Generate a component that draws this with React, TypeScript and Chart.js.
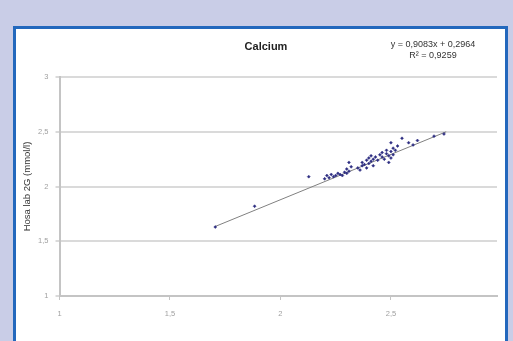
import React, { useEffect, useRef } from "react";
import { Chart, registerables } from "chart.js";

Chart.register(...registerables);

const chartTitle = "Calcium";
const equationLines = ["y = 0,9083x + 0,2964", "R² = 0,9259"];
const yAxisTitle = "Hosa lab 2G (mmol/l)";

const xTicks = [1, 1.5, 2, 2.5];
const yTicks = [1, 1.5, 2, 2.5, 3];

const xValues = [
  1.705, 1.883, 2.128,
  2.2, 2.21, 2.22, 2.23, 2.24, 2.25, 2.26, 2.27, 2.28, 2.29, 2.3, 2.31, 2.32, 2.31, 2.3,
  2.35, 2.36, 2.37, 2.37, 2.38, 2.39, 2.39, 2.4, 2.4, 2.41, 2.41, 2.42, 2.42,
  2.43, 2.44, 2.45, 2.46, 2.46, 2.47, 2.48, 2.48, 2.49, 2.49, 2.5, 2.5, 2.51, 2.51, 2.52,
  2.5, 2.53, 2.55, 2.58, 2.6, 2.62, 2.695, 2.74,
];
const yValues = [
  1.63, 1.82, 2.09,
  2.07, 2.1, 2.08, 2.11, 2.09, 2.1, 2.12, 2.11, 2.1, 2.13, 2.12, 2.14, 2.18, 2.22, 2.16,
  2.17, 2.15, 2.19, 2.22, 2.2, 2.24, 2.17, 2.26, 2.21, 2.23, 2.28, 2.25, 2.19,
  2.27, 2.24, 2.29, 2.27, 2.31, 2.25, 2.3, 2.33, 2.28, 2.22, 2.32, 2.26, 2.35, 2.29, 2.33,
  2.4, 2.37, 2.44, 2.4, 2.38, 2.42, 2.46, 2.48,
];

const trendX = [1.705, 2.75];
const trendY = [1.635, 2.5];

const FONT = "'Liberation Sans', Arial, sans-serif";

const textPlugin = {
  id: "textPlugin",
  afterDraw(chart: any) {
    const ctx = chart.ctx;
    ctx.save();
    ctx.textAlign = "center";
    ctx.textBaseline = "middle";
    ctx.fillStyle = "#222";
    ctx.font = `bold 11px ${FONT}`;
    ctx.fillText(chartTitle, 250, 18);
    ctx.font = `9px ${FONT}`;
    ctx.fillStyle = "#333";
    equationLines.forEach((t, i) => ctx.fillText(t, 417, 16 + i * 11));
    ctx.restore();
  },
};

export default function App() {
  const ref = useRef<HTMLCanvasElement>(null);
  useEffect(() => {
    if (!ref.current) return;
    const points = xValues.map((x, i) => ({ x, y: yValues[i] }));
    const trend = trendX.map((x, i) => ({ x, y: trendY[i] }));
    const chart = new Chart(ref.current, {
      type: "scatter",
      data: {
        datasets: [
          {
            data: trend,
            showLine: true,
            borderColor: "#808080",
            borderWidth: 1,
            pointRadius: 0,
            order: 2,
          } as any,
          {
            data: points,
            pointStyle: "rectRot",
            pointRadius: 1.5,
            backgroundColor: "#2e2e82",
            borderColor: "#2e2e82",
            borderWidth: 0.5,
            order: 1,
          } as any,
        ],
      },
      options: {
        animation: false,
        responsive: false,
        devicePixelRatio: 1,
        layout: { padding: { left: 0, right: 8, top: 48, bottom: 0 } },
        plugins: { legend: { display: false }, tooltip: { enabled: false }, title: { display: false } },
        scales: {
          x: {
            type: "linear",
            min: 1,
            max: 2.98,
            afterBuildTicks: (s: any) => {
              s.ticks = xTicks.map((v) => ({ value: v }));
            },
            afterFit: (s: any) => {
              s.height = 45;
            },
            grid: { drawOnChartArea: false, drawTicks: true, tickLength: 4, color: "#c4c4c4", lineWidth: 1 },
            border: { color: "#c4c4c4", width: 2 },
            ticks: {
              font: { size: 7.5, family: FONT },
              color: "#a0a0a0",
              padding: 9,
              maxRotation: 0,
              callback: (v: any) => String(v).replace(".", ","),
            },
          },
          y: {
            type: "linear",
            min: 1,
            max: 3,
            afterBuildTicks: (s: any) => {
              s.ticks = yTicks.map((v) => ({ value: v }));
            },
            afterFit: (s: any) => {
              s.width = 43.5;
            },
            grid: { color: "#dadada", lineWidth: 2, tickLength: 4, drawTicks: true },
            border: { color: "#c4c4c4", width: 2 },
            ticks: {
              font: { size: 7.5, family: FONT },
              color: "#a0a0a0",
              padding: 7,
              callback: (v: any) => String(v).replace(".", ","),
            },
            title: {
              display: true,
              text: yAxisTitle,
              font: { size: 9.5, family: FONT },
              color: "#333",
              padding: { top: 6, bottom: 0 },
            },
          },
        },
      },
      plugins: [textPlugin],
    });
    return () => chart.destroy();
  }, []);

  return (
    <div style={{ position: "fixed", left: 0, top: 0, width: 513, height: 341, background: "#c9cde7", overflow: "hidden" }}>
      <div
        style={{
          position: "absolute",
          left: 13,
          top: 26,
          width: 495,
          height: 330,
          border: "3px solid #2368bd",
          boxSizing: "border-box",
          background: "#ffffff",
        }}
      >
        <canvas ref={ref} width={489} height={312} style={{ position: "absolute", left: 0, top: 0, width: 489, height: 312 }} />
      </div>
    </div>
  );
}
